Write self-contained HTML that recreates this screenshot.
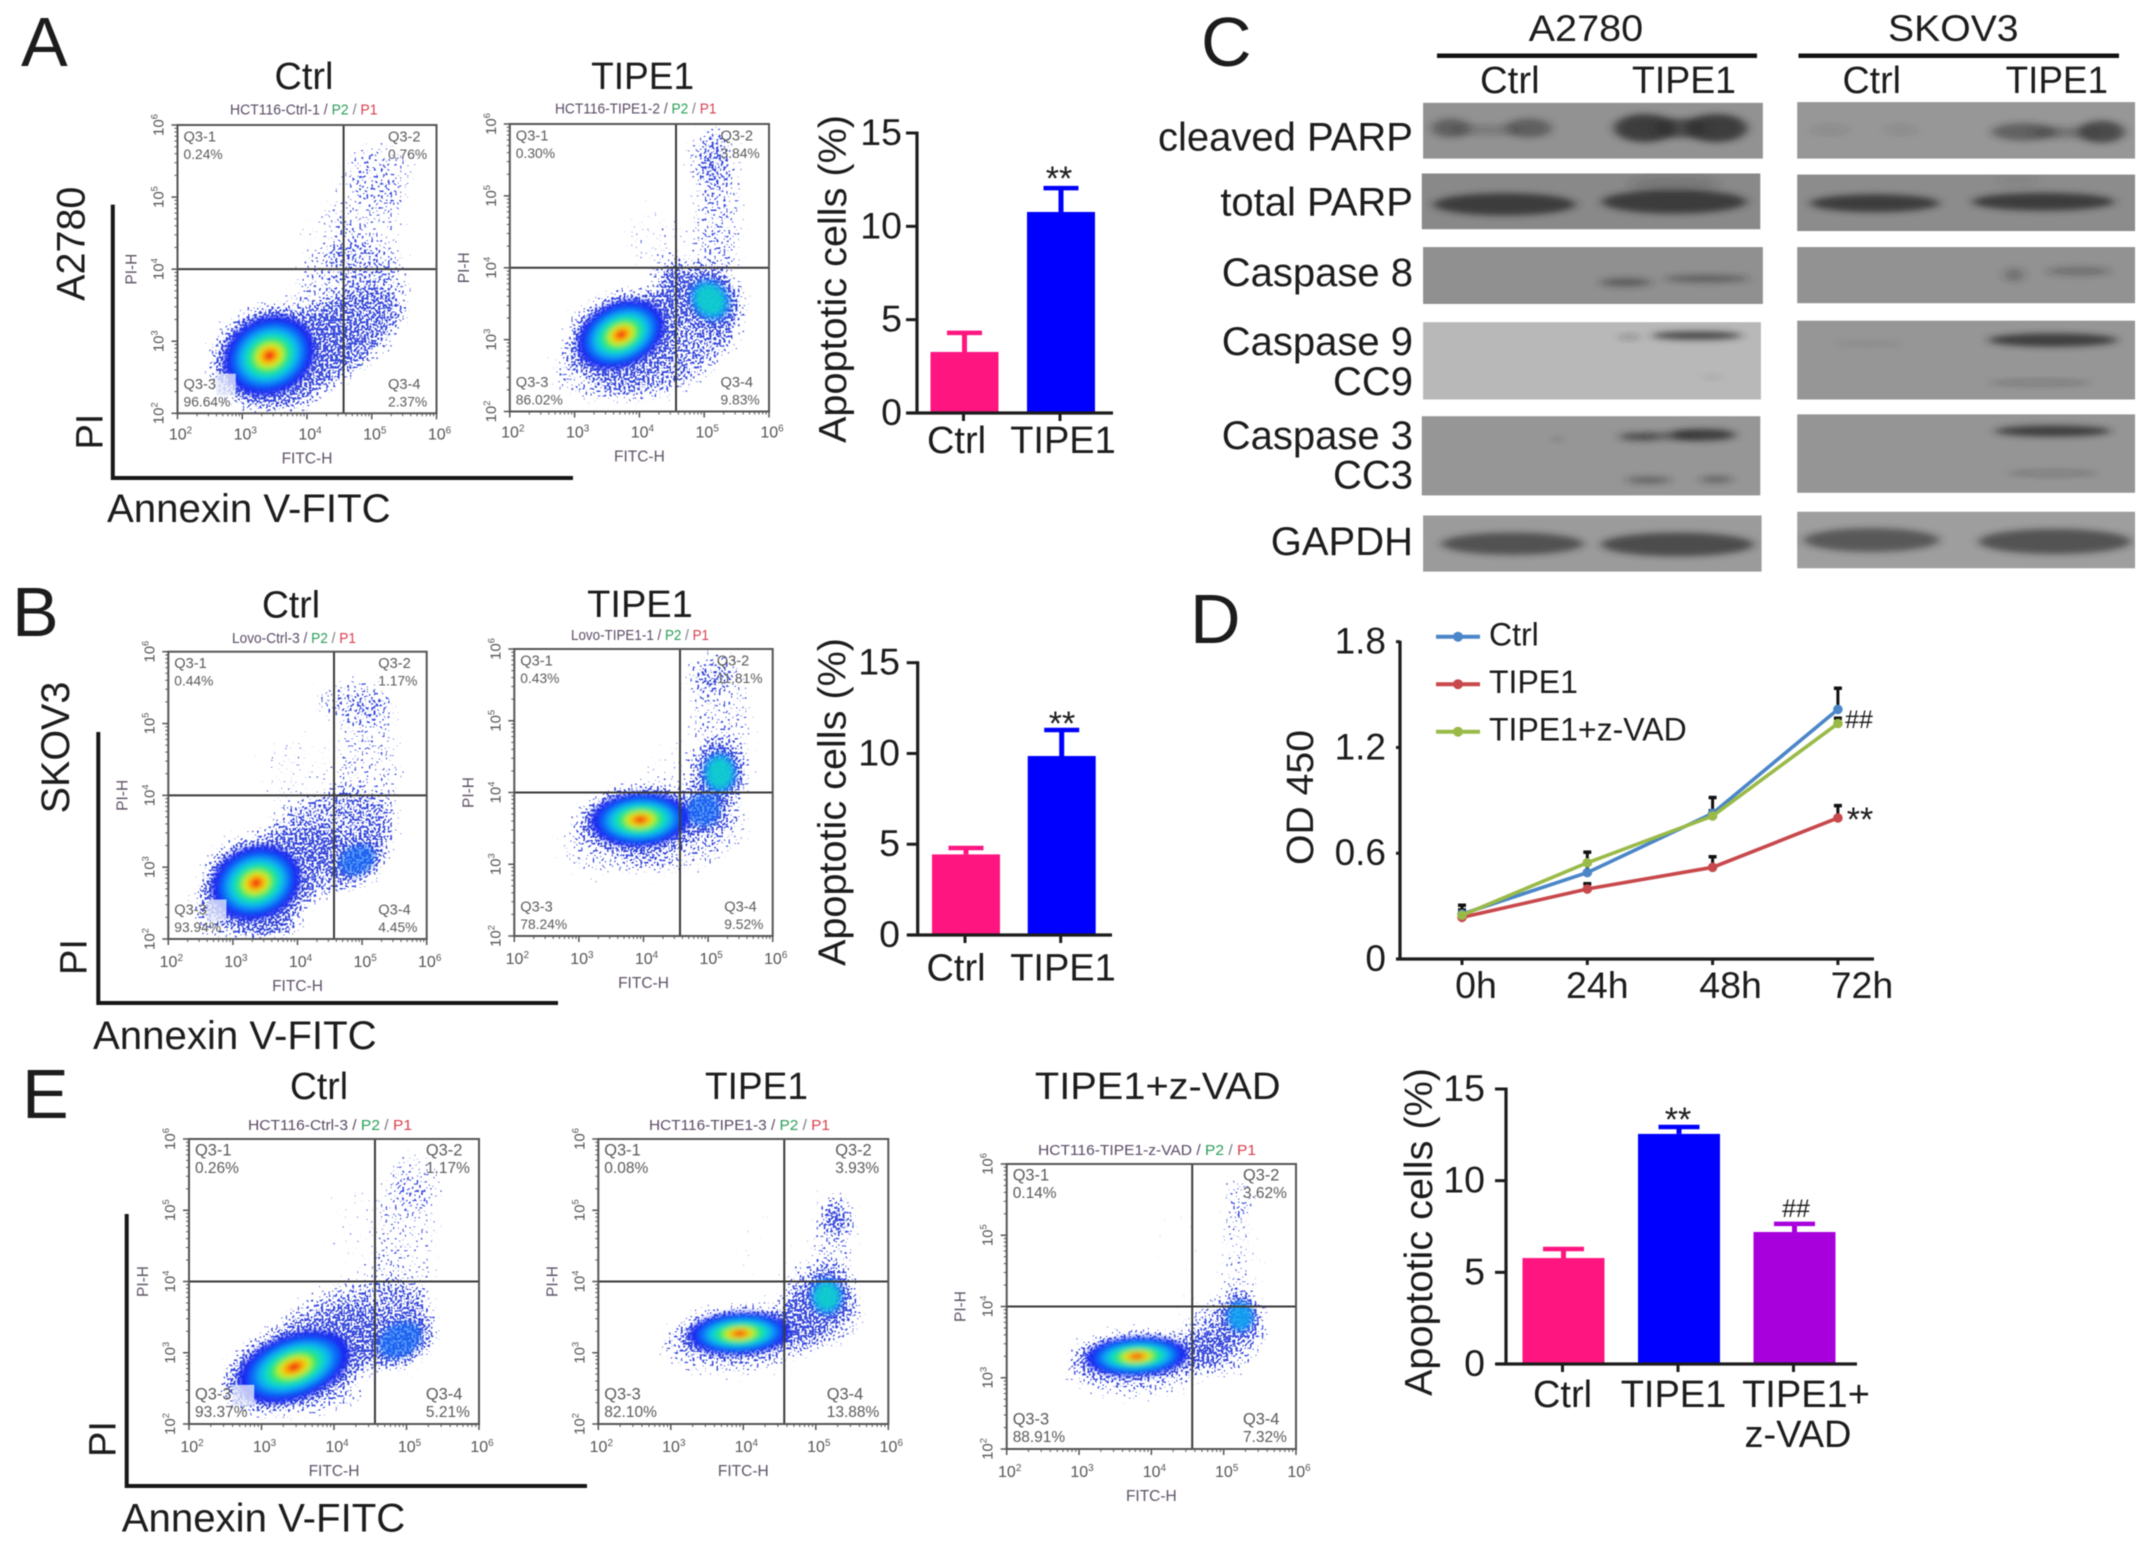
<!DOCTYPE html>
<html lang="en">
<head>
<meta charset="utf-8">
<title>TIPE1 apoptosis figure</title>
<style>
html,body{margin:0;padding:0;background:#fff;width:2150px;height:1551px;overflow:hidden}
svg{display:block;filter:blur(0.55px)}
text{font-family:"Liberation Sans",sans-serif;fill:#1c1c1c}
</style>
</head>
<body>
<svg id="fig" width="2150" height="1551" viewBox="0 0 2150 1551">
  <defs>
    <filter id="speckle" x="-30%" y="-30%" width="160%" height="160%" color-interpolation-filters="sRGB">
      <feGaussianBlur in="SourceAlpha" stdDeviation="7" result="d"/>
      <feTurbulence type="fractalNoise" baseFrequency="0.42" numOctaves="1" seed="4" result="n"/>
      <feColorMatrix in="n" type="matrix" values="0 0 0 0 0  0 0 0 0 0  0 0 0 0 0  3 0 0 0 -1.33" result="na"/>
      <feComposite in="d" in2="na" operator="arithmetic" k1="0" k2="1" k3="1" k4="-1" result="c"/>
      <feComponentTransfer in="c" result="t"><feFuncA type="linear" slope="7"/></feComponentTransfer>
      <feFlood flood-color="#2236d8"/>
      <feComposite in2="t" operator="in"/>
    </filter>
    <filter id="soft" x="-30%" y="-30%" width="160%" height="160%"><feGaussianBlur stdDeviation="2.6"/></filter>
    <filter id="band" x="-50%" y="-100%" width="200%" height="300%"><feGaussianBlur stdDeviation="5 3.2"/></filter>
  </defs>

  <text x="21" y="66" font-size="70">A</text>
  <text x="12" y="636" font-size="70">B</text>
  <text x="1201" y="66" font-size="70">C</text>
  <text x="1190" y="643" font-size="70">D</text>
  <text x="22" y="1118" font-size="70">E</text>

  <path d="M112.8 204.6V478H573" fill="none" stroke="#161616" stroke-width="4"/>
  <path d="M98.3 732V1003H558" fill="none" stroke="#161616" stroke-width="4"/>
  <path d="M126.7 1214V1486H587" fill="none" stroke="#161616" stroke-width="4"/>

  <text transform="rotate(-90 84.6 243.7)" x="84.6" y="243.7" text-anchor="middle" font-size="39.5">A2780</text>
  <text transform="rotate(-90 102.6 431.6)" x="102.6" y="431.6" text-anchor="middle" font-size="38">PI</text>
  <text x="107" y="522" font-size="40.2">Annexin V-FITC</text>

  <text transform="rotate(-90 69 747.5)" x="69" y="747.5" text-anchor="middle" font-size="39.5">SKOV3</text>
  <text transform="rotate(-90 86.7 957)" x="86.7" y="957" text-anchor="middle" font-size="38">PI</text>
  <text x="93" y="1049" font-size="40.2">Annexin V-FITC</text>

  <text transform="rotate(-90 115.7 1439)" x="115.7" y="1439" text-anchor="middle" font-size="38">PI</text>
  <text x="121.7" y="1531.7" font-size="40.2">Annexin V-FITC</text>

  <g id="blots"></g>
  <g id="flow"></g>
  <g id="bars"></g>
  <g id="od"></g>
</svg>

<script>
/* ---------- bar chart data ---------- */
const barTicks = [0, 5, 10, 15];
const barCatsTwo = ['Ctrl', 'TIPE1'];
const barCatsThree = ['Ctrl', 'TIPE1', 'TIPE1+|z-VAD'];
const barColors = ['#ff1580', '#0000ff', '#a800dc'];
const barAValues = [3.27, 10.77];
const barAErrors = [1.02, 1.28];
const barBValues = [4.44, 9.86];
const barBErrors = [0.35, 1.43];
const barEValues = [5.78, 12.55, 7.2];
const barEErrors = [0.49, 0.38, 0.44];

/* ---------- line chart data ---------- */
const odTimes = ['0h', '24h', '48h', '72h'];
const odTicks = [0, 0.6, 1.2, 1.8];
const odTickLabels = ['0', '0.6', '1.2', '1.8'];
const odSeriesNames = ['Ctrl', 'TIPE1', 'TIPE1+z-VAD'];
const odCtrl = [0.255, 0.49, 0.826, 1.416];
const odTipe = [0.236, 0.397, 0.52, 0.80];
const odZvad = [0.248, 0.546, 0.811, 1.336];
const odCtrlErr = [0.05, 0.05, 0.09, 0.12];
const odTipeErr = [0.03, 0.03, 0.06, 0.07];
const odZvadErr = [0.03, 0.06, 0.03, 0.03];

/* ---------- flow cytometry data (log10 units) ---------- */
const flowTitles = ['Ctrl', 'TIPE1', 'Ctrl', 'TIPE1', 'Ctrl', 'TIPE1', 'TIPE1+z-VAD'];
const flowSamples = ['HCT116-Ctrl-1', 'HCT116-TIPE1-2', 'Lovo-Ctrl-3', 'Lovo-TIPE1-1', 'HCT116-Ctrl-3', 'HCT116-TIPE1-3', 'HCT116-TIPE1-z-VAD'];
const flowQ1 = [0.24, 0.30, 0.44, 0.43, 0.26, 0.08, 0.14];
const flowQ2 = [0.76, 3.84, 1.17, 11.81, 1.17, 3.93, 3.62];
const flowQ3 = [96.64, 86.02, 93.94, 78.24, 93.37, 82.10, 88.91];
const flowQ4 = [2.37, 9.83, 4.45, 9.52, 5.21, 13.88, 7.32];
const quadrantNames = ['Q3-1', 'Q3-2', 'Q3-3', 'Q3-4'];
const decadeLabels = ['2', '3', '4', '5', '6'];
const gateLogX = 4.565;
const gateLogY = 4.0;
/* main population: [logX, logY, radiusX, radiusY, rotation] */
const flowMain = [
  [3.42, 2.8, 0.72, 0.53, -25],
  [3.72, 3.07, 0.7, 0.44, -25],
  [3.36, 2.78, 0.7, 0.5, -20],
  [3.95, 3.62, 0.76, 0.37, -3],
  [3.45, 2.8, 0.8, 0.45, -20],
  [3.95, 3.27, 0.7, 0.29, -3],
  [3.8, 3.3, 0.7, 0.27, -3]
];
/* secondary populations: [logX, logY, radiusX, radiusY, rotation, colour depth] */
const flowSecondary = [
  [[4.2, 2.95, 0.55, 0.42, -30, 1]],
  [[5.09, 3.55, 0.42, 0.45, -40, 4], [4.53, 3.72, 0.22, 0.35, 0, 1]],
  [[4.92, 3.1, 0.42, 0.28, -30, 2], [4.04, 3.19, 0.55, 0.3, -20, 1], [3.5, 2.25, 0.45, 0.22, 0, 1]],
  [[5.18, 4.27, 0.38, 0.42, 0, 4], [4.93, 3.76, 0.38, 0.32, -40, 2]],
  [[4.91, 3.18, 0.45, 0.33, -30, 2], [4.2, 3.23, 0.5, 0.36, -20, 1]],
  [[5.15, 3.79, 0.33, 0.38, 0, 4], [4.83, 3.46, 0.32, 0.36, -40, 1], [5.29, 4.87, 0.2, 0.18, 0, 1]],
  [[5.23, 3.86, 0.27, 0.32, 0, 3], [4.81, 3.44, 0.34, 0.26, -30, 1]]
];
/* speckled clouds: [logX, logY, radiusX, radiusY, rotation, density] */
const flowClouds = [
  [[4.4, 3.0, 1.2, 0.55, -35, 0.8], [4.7, 3.6, 0.9, 0.8, -40, 0.5], [4.9, 4.6, 0.6, 1.1, 0, 0.36], [5.2, 5.3, 0.5, 0.5, 0, 0.36], [4.4, 4.4, 0.5, 0.5, 0, 0.2], [3.5, 2.4, 0.8, 0.4, 0, 0.8]],
  [[4.4, 3.0, 1.3, 0.7, -30, 0.8], [5.2, 4.7, 0.35, 1.3, 0, 0.55], [5.1, 5.5, 0.3, 0.4, 0, 0.6], [4.3, 4.3, 0.5, 0.6, -40, 0.26], [3.6, 2.7, 1.0, 0.5, -20, 0.45]],
  [[4.4, 3.3, 1.2, 0.7, -25, 0.72], [5.1, 4.4, 0.5, 1.0, 0, 0.42], [4.9, 5.3, 0.6, 0.3, 0, 0.6], [4.1, 4.2, 0.6, 0.7, -40, 0.24], [3.3, 2.5, 1.0, 0.5, -15, 0.55]],
  [[4.6, 3.4, 1.0, 0.5, -15, 0.55], [3.6, 3.3, 0.9, 0.45, -10, 0.45], [5.2, 5.1, 0.45, 0.9, 0, 0.45], [5.0, 5.6, 0.35, 0.25, 0, 0.6], [4.4, 4.4, 0.4, 0.4, 0, 0.2]],
  [[4.2, 3.3, 1.2, 0.65, -20, 0.75], [5.0, 4.5, 0.45, 1.0, 0, 0.36], [5.1, 5.4, 0.4, 0.4, 0, 0.42], [4.4, 4.7, 0.5, 0.7, -20, 0.16], [3.6, 2.45, 0.8, 0.3, 0, 0.55]],
  [[3.9, 3.1, 1.1, 0.4, -3, 0.5], [5.1, 3.7, 0.5, 0.6, -35, 0.65], [5.25, 4.6, 0.28, 0.7, 0, 0.48], [4.3, 4.4, 0.4, 0.7, 0, 0.08]],
  [[3.8, 3.15, 1.0, 0.42, -3, 0.5], [5.0, 3.6, 0.6, 0.55, -30, 0.58], [5.2, 4.6, 0.25, 0.85, 0, 0.36], [5.2, 5.5, 0.2, 0.3, 0, 0.5], [4.4, 4.8, 0.4, 0.8, 0, 0.05]]
];
const flowPatch = [true, false, true, false, true, false, false];

/* ---------- page layout (not data) ---------- */
const flowFrames = [
  {l:177.5,r:436.5,t:125,  b:413.3, tc:304,   tb:89,    tw:59,    hl:230,  hr:377.5,hb:114.6, tl:26, fl:50},
  {l:509.8,r:769,  t:124,  b:411.5, tc:642.6, tb:89,    tw:103,   hl:555,  hr:716.5,hb:113.6, tl:26, fl:50},
  {l:168.3,r:426.7,t:651.7,b:939,   tc:291,   tb:617.7, tw:58,    hl:232,  hr:356,  hb:643,   tl:28, fl:52},
  {l:514.3,r:772.7,t:649,  b:936,   tc:640,   tb:617,   tw:105.7, hl:571,  hr:709,  hb:640,   tl:28, fl:52},
  {l:189,  r:479,  t:1139, b:1424,  tc:319,   tb:1099,  tw:58,    hl:248,  hr:412,  hb:1130,  tl:28, fl:52},
  {l:598.3,r:888.3,t:1139, b:1424,  tc:756.5, tb:1099,  tw:103,   hl:649,  hr:830,  hb:1130,  tl:28, fl:52},
  {l:1006.7,r:1296,t:1164, b:1449,  tc:1157.8,tb:1099,  tw:245.7, hl:1038, hr:1256, hb:1155,  tl:28, fl:52}
];
const densityScale = [1, 0.82, 0.68, 0.56, 0.44, 0.32, 0.22, 0.12];
const densityColor = ['#1428f0', '#0a6cf8', '#08b0f0', '#10dcc0', '#30e860', '#c8ee20', '#ffb000', '#f01810'];

const NS = 'http://www.w3.org/2000/svg';

function mk(parent, tag, attrs, name) {
  const node = document.createElementNS(NS, tag);
  for (const k in attrs) node.setAttribute(k, attrs[k]);
  
  
  parent.appendChild(node);
  return node;
}

function label(parent, str, x, y, size, name, opt) {
  opt = opt || {};
  const attrs = {x: x, y: y, 'font-size': size, 'text-anchor': opt.anchor || 'start'};
  if (opt.len) { attrs.textLength = opt.len; attrs.lengthAdjust = 'spacingAndGlyphs'; }
  if (opt.rot) attrs.transform = 'rotate(' + opt.rot + ' ' + x + ' ' + y + ')';
  if (opt.fill) attrs.style = 'fill:' + opt.fill;
  const node = mk(parent, 'text', attrs, name);
  node.textContent = str;
  return node;
}

function line(parent, x1, y1, x2, y2, stroke, width, name) {
  return mk(parent, 'line', {x1: x1, y1: y1, x2: x2, y2: y2, stroke: stroke, 'stroke-width': width}, name);
}

/* ---------- flow plots ---------- */
function span(parent, str, fill, extra) {
  const t = document.createElementNS(NS, 'tspan');
  t.textContent = str;
  t.setAttribute('style', 'fill:' + fill);
  if (extra) for (const k in extra) t.setAttribute(k, extra[k]);
  parent.appendChild(t);
}

function decade(parent, x, y, exp, size, fill, rot, name) {
  const attrs = {x: x, y: y, 'font-size': size, 'text-anchor': 'middle'};
  if (rot) attrs.transform = 'rotate(-90 ' + x + ' ' + y + ')';
  const node = mk(parent, 'text', attrs, name);
  span(node, '10', fill);
  span(node, exp, fill, {dy: -6, 'font-size': size * 0.62});
}

function pctWidth(s, size) {
  let w = 0;
  for (const c of s) w += c === '.' ? 0.278 : c === '%' ? 0.889 : 0.556;
  return w * size;
}

function drawFlow(root, i) {
  const f = flowFrames[i];
  const W = f.r - f.l, H = f.b - f.t;
  const sx = W / 4, sy = H / 4;
  const X = v => f.l + (v - 2) * sx;
  const Y = v => f.b - (v - 2) * sy;
  const g = mk(root, 'g', {}, 'flow-plot-' + (i + 1));
  const grey = '#555';

  label(g, flowTitles[i], f.tc, f.tb, 38, 'flow-title', {anchor: 'middle', len: f.tw});

  const head = mk(g, 'text', {x: f.hl, y: f.hb, 'font-size': 15, textLength: f.hr - f.hl, lengthAdjust: 'spacingAndGlyphs'}, 'flow-sample-header');
  span(head, flowSamples[i] + ' / ', '#5a4a66');
  span(head, 'P2', '#2c9e58');
  span(head, ' / ', '#777');
  span(head, 'P1', '#d8404e');

  const clipId = 'clip' + i;
  const cp = mk(g, 'clipPath', {id: clipId}, 'flow-clip');
  mk(cp, 'rect', {x: f.l, y: f.t, width: W, height: H}, 'flow-clip-rect');
  const plot = mk(g, 'g', {'clip-path': 'url(#' + clipId + ')'}, 'flow-events');

  const place = (c, scale) => ({
    cx: X(c[0]), cy: Y(c[1]),
    rx: c[2] * sx * scale, ry: c[3] * sy * scale,
    transform: 'rotate(' + c[4] + ' ' + X(c[0]) + ' ' + Y(c[1]) + ')'
  });

  const cloud = mk(plot, 'g', {filter: 'url(#speckle)', opacity: 0.9}, 'flow-scatter-cloud');
  flowClouds[i].forEach(c => {
    const a = place(c, 1);
    a['fill-opacity'] = c[5];
    mk(cloud, 'ellipse', a, 'event-cloud');
  });
  flowSecondary[i].forEach(c => {
    const a = place(c, 1.15);
    mk(cloud, 'ellipse', a, 'secondary-population-speckle');
  });
  const m = flowMain[i];
  const halo = place(m, 1.3);
  mk(cloud, 'ellipse', halo, 'event-cloud-halo');

  const dense = mk(plot, 'g', {filter: 'url(#soft)'}, 'flow-density');
  flowSecondary[i].forEach(c => {
    for (let d = 1; d < c[5]; d++) {
      const a = place(c, densityScale[d] * 0.85);
      a.fill = densityColor[d];
      a['fill-opacity'] = 0.7;
      mk(dense, 'ellipse', a, 'secondary-population');
    }
  });
  densityScale.forEach((s, d) => {
    const a = place(m, s);
    a.fill = densityColor[d];
    mk(dense, 'ellipse', a, 'main-population-level');
  });
  if (flowPatch[i]) {
    mk(plot, 'rect', {x: X(2.6), y: Y(2.55), width: X(2.9) - X(2.6), height: Y(2.25) - Y(2.55), fill: '#e4e8fa', opacity: 0.8}, 'flow-label-patch');
  }

  line(g, X(gateLogX), f.t, X(gateLogX), f.b, '#3a3a3a', 2, 'gate-vertical');
  line(g, f.l, Y(gateLogY), f.r, Y(gateLogY), '#3a3a3a', 2, 'gate-horizontal');
  mk(g, 'rect', {x: f.l, y: f.t, width: W, height: H, fill: 'none', stroke: grey, 'stroke-width': 2}, 'flow-frame');

  for (let e = 2; e <= 6; e++) {
    line(g, X(e), f.b, X(e), f.b + 6, grey, 1.5, 'x-major-tick');
    line(g, f.l - 6, Y(e), f.l, Y(e), grey, 1.5, 'y-major-tick');
    decade(g, X(e) + 3, f.b + f.tl, decadeLabels[e - 2], 16, '#555', false, 'x-tick-label');
    decade(g, f.l - 14, Y(e), decadeLabels[e - 2], 15, '#555', true, 'y-tick-label');
    if (e < 6) for (let k = 2; k < 10; k++) {
      line(g, X(e + Math.log10(k)), f.b, X(e + Math.log10(k)), f.b + 3, grey, 1, 'x-minor-tick');
      line(g, f.l - 3, Y(e + Math.log10(k)), f.l, Y(e + Math.log10(k)), grey, 1, 'y-minor-tick');
    }
  }
  label(g, 'FITC-H', (f.l + f.r) / 2, f.b + f.fl, 15.5, 'x-axis-title', {anchor: 'middle', fill: '#5e5266'});
  label(g, 'PI-H', f.l - 41, Y(gateLogY), 15.5, 'y-axis-title', {anchor: 'middle', rot: -90, fill: '#5e5266'});

  const fs = 15.2 * W / 290;
  const p = [flowQ1[i], flowQ2[i], flowQ3[i], flowQ4[i]].map(v => v.toFixed(2) + '%');
  const ink = '#5a5a5a';
  const lh = 17.5;
  const cap = 16.5;
  label(g, quadrantNames[0], f.l + 6, f.t + cap, fs * 1.08, 'quadrant-name', {fill: ink});
  label(g, p[0], f.l + 6, f.t + cap + lh, fs * 1.02, 'quadrant-percent', {fill: ink});
  const rx1 = f.r - 10 - pctWidth(p[1], fs);
  label(g, quadrantNames[1], rx1, f.t + cap, fs * 1.08, 'quadrant-name', {fill: ink});
  label(g, p[1], rx1, f.t + cap + lh, fs * 1.02, 'quadrant-percent', {fill: ink});
  label(g, quadrantNames[2], f.l + 6, f.b - 7 - lh, fs * 1.08, 'quadrant-name', {fill: ink});
  label(g, p[2], f.l + 6, f.b - 7, fs * 1.02, 'quadrant-percent', {fill: ink});
  const rx3 = f.r - 10 - pctWidth(p[3], fs);
  label(g, quadrantNames[3], rx3, f.b - 7 - lh, fs * 1.08, 'quadrant-name', {fill: ink});
  label(g, p[3], rx3, f.b - 7, fs * 1.02, 'quadrant-percent', {fill: ink});
}
flowFrames.forEach((_, i) => drawFlow(document.getElementById('flow'), i));

/* ---------- bar charts ---------- */
function drawBars(root, cfg, cats, vals, errs) {
  const g = mk(root, 'g', {}, cfg.name);
  const y = v => cfg.y0 - (v / 15) * (cfg.y0 - cfg.y15);
  const x = i => cfg.x0 + i * cfg.step;
  const ink = '#1c1c1c';
  vals.forEach((v, i) => {
    const col = barColors[i];
    const top = y(v + errs[i]);
    line(g, x(i), top, x(i), y(v), col, 5, 'error-stem-' + cats[i].split('|')[0]);
    line(g, x(i) - cfg.cap, top, x(i) + cfg.cap, top, col, 4.5, 'error-cap-' + cats[i].split('|')[0]);
    mk(g, 'rect', {x: x(i) - cfg.bw / 2, y: y(v), width: cfg.bw, height: y(0) - y(v), fill: col}, 'bar-' + cats[i].split('|')[0]);
    line(g, x(i) - 1, y(0), x(i) - 1, y(0) + 8, ink, 3, 'x-tick');
    cats[i].split('|').forEach((t, k) => {
      label(g, t, cfg.labelX[i][k], cfg.labelY + k * 40, 38, 'x-tick-label', {anchor: 'middle'});
    });
  });
  line(g, cfg.axisX, cfg.y15 - 1.5, cfg.axisX, y(0) + 1.5, ink, 3.2, 'y-axis-line');
  line(g, cfg.axisX - 10, y(0), cfg.axisR, y(0), ink, 3.2, 'x-axis-line');
  barTicks.forEach(t => {
    line(g, cfg.axisX - 11, y(t), cfg.axisX, y(t), ink, 3, 'y-tick');
    label(g, String(t), cfg.tickR, y(t) + 12, 37.5, 'y-tick-label', {anchor: 'end'});
  });
  label(g, 'Apoptotic cells (%)', cfg.titleX, cfg.titleY, 39, 'y-axis-title', {anchor: 'middle', rot: -90, len: 328});
  cfg.marks.forEach(m => label(g, m[0], m[1], m[2], m[3], 'significance-mark', {anchor: 'middle'}));
}
const barsRoot = document.getElementById('bars');
drawBars(barsRoot, {name: 'bar-chart-a', y0: 413, y15: 133, x0: 964.5, step: 96.5, bw: 68, cap: 17.5, axisX: 917, axisR: 1113, tickR: 902,
  labelX: [[956.5], [1063]], labelY: 453, titleX: 846, titleY: 279, marks: [['**', 1059, 190, 34]]}, barCatsTwo, barAValues, barAErrors);
drawBars(barsRoot, {name: 'bar-chart-b', y0: 935, y15: 662.7, x0: 966, step: 95.7, bw: 68, cap: 17.5, axisX: 917.7, axisR: 1112, tickR: 900,
  labelX: [[956], [1063]], labelY: 980.7, titleX: 845.7, titleY: 802, marks: [['**', 1062, 735, 34]]}, barCatsTwo, barBValues, barBErrors);
drawBars(barsRoot, {name: 'bar-chart-e', y0: 1364, y15: 1089, x0: 1563.5, step: 115.5, bw: 82, cap: 20.5, axisX: 1506, axisR: 1857, tickR: 1485,
  labelX: [[1562.5], [1673.5], [1806, 1798]], labelY: 1407, titleX: 1432, titleY: 1232, marks: [['**', 1678, 1131, 34], ['##', 1796, 1217, 25]]}, barCatsThree, barEValues, barEErrors);

/* ---------- OD450 line chart ---------- */
(function () {
  const g = mk(document.getElementById('od'), 'g', {}, 'od450-plot');
  const y0 = 959, yTop = 641.7;
  const y = v => y0 - (v / 1.8) * (y0 - yTop);
  const x = i => 1462 + i * 125.3;
  const labelNudge = [14, 10, 18, 24];
  const ink = '#1c1c1c';
  const colors = ['#4a86c8', '#c8484c', '#9aba48'];
  const series = [odCtrl, odTipe, odZvad];
  const errors = [odCtrlErr, odTipeErr, odZvadErr];
  series.forEach((s, k) => {
    s.forEach((v, i) => {
      const top = y(v + errors[k][i]);
      line(g, x(i), y(v), x(i), top, '#111', 3, 'error-stem');
      line(g, x(i) - 4, top, x(i) + 4, top, '#111', 3.5, 'error-cap');
    });
  });
  series.forEach((s, k) => {
    mk(g, 'polyline', {points: s.map((v, i) => x(i) + ',' + y(v)).join(' '), fill: 'none', stroke: colors[k], 'stroke-width': 3.6}, 'series-line-' + odSeriesNames[k]);
    s.forEach((v, i) => mk(g, 'circle', {cx: x(i), cy: y(v), r: 4.8, fill: colors[k]}, 'series-point-' + odSeriesNames[k]));
  });
  line(g, 1400, yTop - 1, 1400, y0 + 1.5, ink, 3.2, 'y-axis-line');
  line(g, 1396, y0, 1874, y0, ink, 3.2, 'x-axis-line');
  odTicks.forEach((t, i) => {
    line(g, 1396, y(t), 1400, y(t), ink, 3, 'y-tick');
    label(g, odTickLabels[i], 1386, y(t) + 12, 37, 'y-tick-label', {anchor: 'end'});
  });
  odTimes.forEach((t, i) => {
    line(g, x(i), y0, x(i), y0 + 6, ink, 3, 'x-tick');
    label(g, t, x(i) + labelNudge[i], 998, 37.5, 'x-tick-label', {anchor: 'middle'});
  });
  label(g, 'OD 450', 1313, 797.5, 38, 'y-axis-title', {anchor: 'middle', rot: -90, len: 135});
  const legendY = i => 636.7 + i * 47.5;
  odSeriesNames.forEach((n, i) => {
    line(g, 1436, legendY(i), 1480, legendY(i), colors[i], 4, 'legend-line-' + n);
    mk(g, 'circle', {cx: 1458, cy: legendY(i), r: 5, fill: colors[i]}, 'legend-marker-' + n);
    label(g, n, 1489, legendY(i) + 9, 32, 'legend-label-' + n);
  });
  label(g, '##', 1859, 728, 25, 'significance-mark', {anchor: 'middle'});
  label(g, '**', 1860, 831, 34, 'significance-mark', {anchor: 'middle'});
})();

/* ---------- western blots (grey panels with soft bands) ---------- */
(function () {
  const root = document.getElementById('blots');
  const bx = z => 1137 + z / 1.545;
  const by = z => z / 2.69 - 2;
  const headers = [
    ['A2780', 1528.6, 114.6, 1437, 1757, 'Ctrl', 1480, 59.6, 'TIPE1', 1632, 104],
    ['SKOV3', 1888, 130.6, 1798.5, 2119, 'Ctrl', 1842.5, 58.5, 'TIPE1', 2005.6, 102.4]
  ];
  headers.forEach(h => {
    label(root, h[0], h[1], 41, 37, 'cell-line-header', {len: h[2]});
    line(root, h[3], 55.8, h[4], 55.8, '#111', 4.5, 'cell-line-rule');
    label(root, h[5], h[6], 93, 38, 'lane-label', {len: h[7]});
    label(root, h[8], h[9], 93, 38, 'lane-label', {len: h[10]});
  });
  const rows = [['cleaved PARP', 150.6], ['total PARP', 215.5], ['Caspase 8', 286], ['Caspase 9', 355], ['CC9', 395], ['Caspase 3', 449], ['CC3', 488.7], ['GAPDH', 555]];
  rows.forEach(r => label(root, r[0], 1413, r[1], 40, 'blot-label-' + r[0].toLowerCase().replace(' ', '-'), {anchor: 'end'}));
  const bandDarkness = 0.82;
  const panels = [
    [442,967,282,432,'#929292',[[485,350,30,26,.6],[605,350,36,26,.6],[540,355,50,12,.3],[785,350,48,38,1],[895,350,48,38,1],[840,350,40,26,.8]]],
    [440,963,472,622,'#898989',[[568,555,110,30,1],[830,548,112,32,1],[830,500,70,25,.2]]],
    [442,967,670,823,'#909090',[[755,765,40,12,.6],[880,755,65,10,.6]]],
    [442,964,872,1080,'#b8b8b8',[[760,912,15,6,.45],[865,908,70,11,1],[890,1020,15,5,.15]]],
    [440,963,1125,1338,'#969696',[[775,1180,30,11,.8],[875,1175,50,16,1],[825,1178,40,9,.65],[650,1187,8,6,.25],[790,1297,35,9,.6],[895,1295,25,9,.6]]],
    [442,965,1392,1543,'#9b9b9b',[[580,1468,110,30,.8],[835,1470,118,32,.85]]],
    [1020,1542,280,432,'#979797',[[1070,355,30,12,.15],[1180,355,25,12,.15],[1370,360,50,24,.6],[1490,360,36,30,.85],[1430,362,50,15,.4]]],
    [1020,1542,475,627,'#8c8c8c',[[1140,552,100,24,1],[1400,548,110,24,1],[1360,490,30,15,.12]]],
    [1020,1542,670,821,'#929292',[[1355,745,15,18,.4],[1455,735,50,12,.4]]],
    [1020,1542,868,1080,'#969696',[[1415,920,100,18,1],[1130,930,55,6,.12],[1395,1035,80,7,.3]]],
    [1020,1542,1120,1331,'#959595',[[1415,1165,90,15,1],[1415,1278,70,7,.3]]],
    [1020,1542,1382,1534,'#9e9e9e',[[1135,1458,105,32,.75],[1418,1462,118,34,.8]]]
  ];
  panels.forEach(p => {
    const g = mk(root, 'g', {}, 'blot-panel');
    mk(g, 'rect', {x: bx(p[0]), y: by(p[2]), width: (p[1] - p[0]) / 1.545, height: (p[3] - p[2]) / 2.69, fill: p[4]}, 'blot-membrane');
    const clip = 'blot' + p[0] + '-' + p[2];
    const cp = mk(g, 'clipPath', {id: clip}, 'blot-clip');
    mk(cp, 'rect', {x: bx(p[0]), y: by(p[2]), width: (p[1] - p[0]) / 1.545, height: (p[3] - p[2]) / 2.69}, 'blot-clip-rect');
    const inner = mk(g, 'g', {'clip-path': 'url(#' + clip + ')'}, 'blot-bands');
    p[5].forEach(b => {
      mk(inner, 'ellipse', {cx: bx(b[0]), cy: by(b[1]), rx: b[2] / 1.545, ry: b[3] / 2.69, fill: '#2a2a2a', 'fill-opacity': b[4] * bandDarkness, filter: 'url(#band)'}, 'blot-band');
    });
  });
})();
</script>
</body>
</html>
